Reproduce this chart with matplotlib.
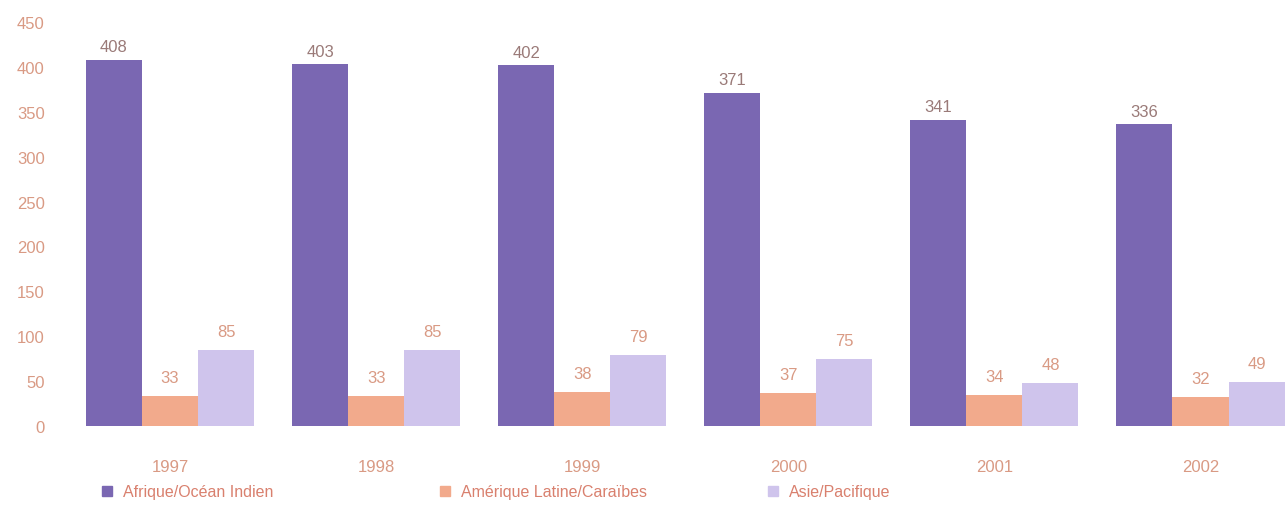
import matplotlib.pyplot as plt
import matplotlib.patches as mpatches
import numpy as np

plt.rcParams['font.family'] = ['Liberation Sans', 'DejaVu Sans']

# data
years = ['1997', '1998', '1999', '2000', '2001', '2002']
afrique = [408, 403, 402, 371, 341, 336]
amerique = [33, 33, 38, 37, 34, 32]
asie = [85, 85, 79, 75, 48, 49]
series_names = ['Afrique/Océan Indien', 'Amérique Latine/Caraïbes', 'Asie/Pacifique']
yticks = [0, 50, 100, 150, 200, 250, 300, 350, 400, 450]

c_purple = '#7a67b2'
c_orange = '#f2aa8c'
c_lav = '#cfc4ec'
c_text = '#d99a84'
c_dark = '#9a7a78'

fig = plt.figure(figsize=(12.85, 5.1), dpi=100)
ax = fig.add_axes([60 / 1285, 83 / 510, 1 - 60 / 1285, 404 / 510])

x = np.arange(len(years))
w = 0.272
b1 = ax.bar(x - w, afrique, w, color=c_purple)
b2 = ax.bar(x, amerique, w, color=c_orange)
b3 = ax.bar(x + w, asie, w, color=c_lav)

ax.bar_label(b1, padding=4, fontsize=12, color=c_dark)
ax.bar_label(b2, padding=8, fontsize=12, color=c_text)
ax.bar_label(b3, padding=8, fontsize=12, color=c_text)

ax.set_xlim(-0.534, 5.41)
ax.set_ylim(0, 450)
ax.set_yticks(yticks)
ax.set_xticks(x)
ax.set_xticklabels(years)
ax.tick_params(axis='both', length=0, labelsize=12, labelcolor=c_text)
ax.tick_params(axis='x', pad=24)
ax.tick_params(axis='y', pad=11)
for s in ax.spines.values():
    s.set_visible(False)

# legend entries spread along the bottom
leg_x = [96 / 1285, 434 / 1285, 762 / 1285]
for name, col, lx in zip(series_names, [c_purple, c_orange, c_lav], leg_x):
    h = mpatches.Patch(color=col, label=name)
    fig.legend(handles=[h], loc='center left', bbox_to_anchor=(lx, 17 / 510),
               frameon=False, fontsize=11.5, handlelength=0.6, handleheight=0.6,
               handletextpad=0.7, labelcolor='#d9806e', borderaxespad=0)

fig.savefig('out.png', dpi=100)
